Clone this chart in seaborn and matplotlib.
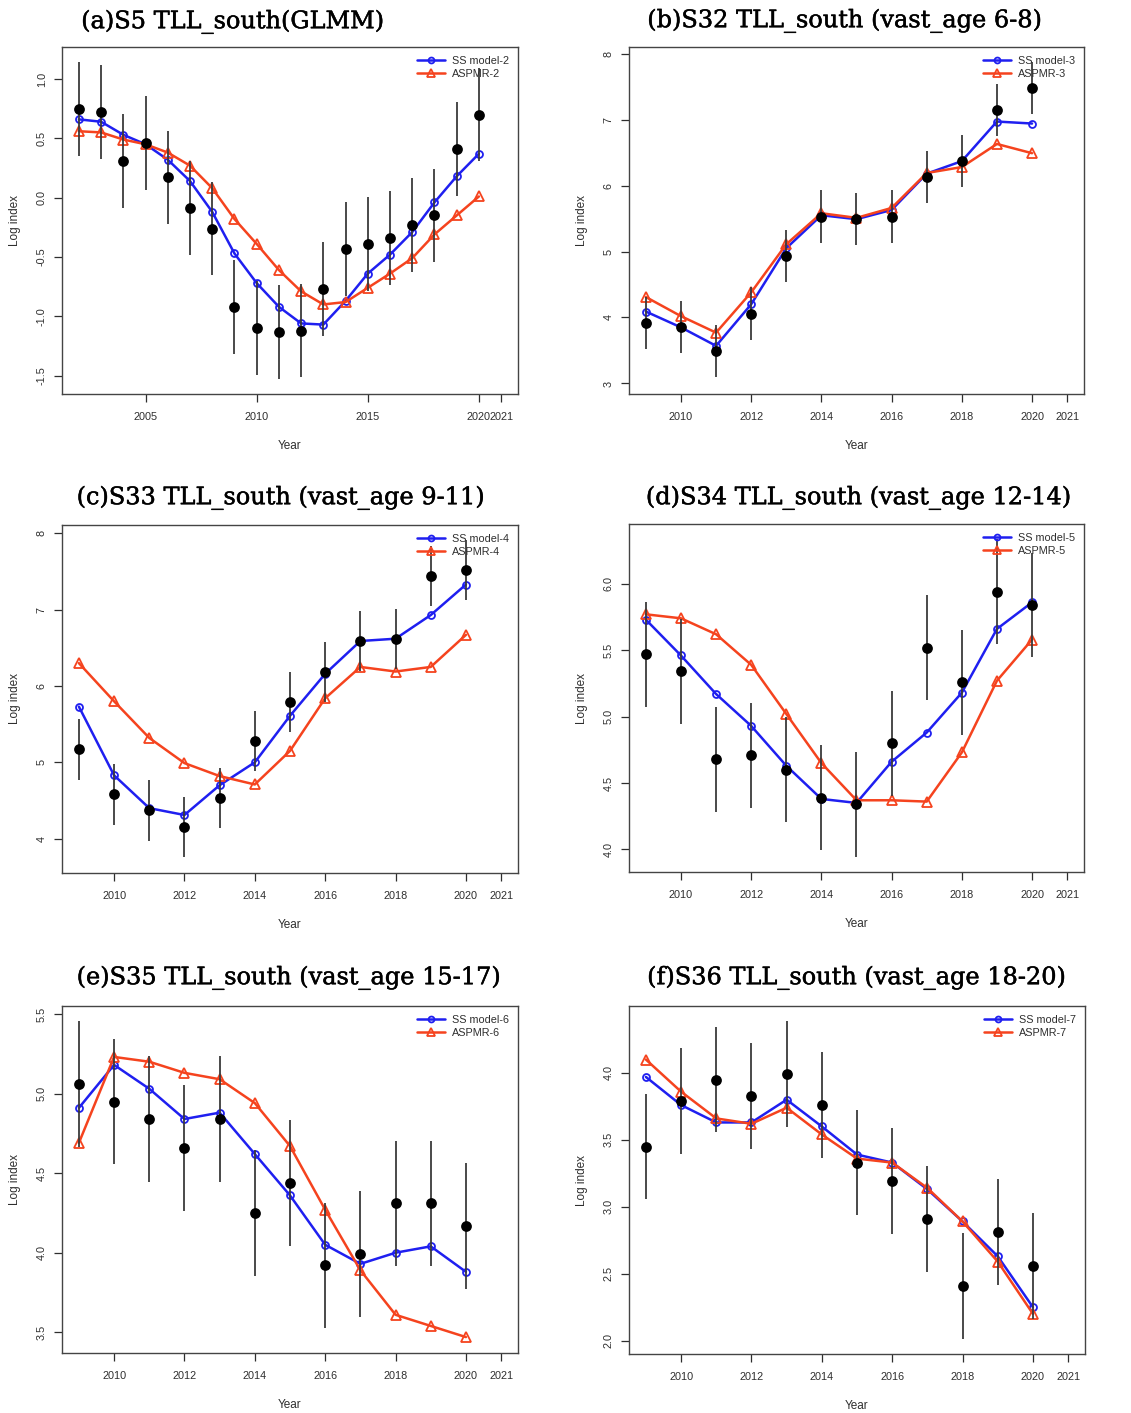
import matplotlib
matplotlib.use("Agg")
import matplotlib.pyplot as plt
import matplotlib.patheffects as pe
import seaborn as sns
import numpy as np
import pandas as pd

# ---- data ----
years_a = list(range(2002, 2021))
years = list(range(2009, 2021))

obs_a = [0.75, 0.72, 0.31, 0.46, 0.17, -0.09, -0.26, -0.92, -1.10, -1.13, -1.12,
         -0.77, -0.43, -0.39, -0.34, -0.23, -0.15, 0.41, 0.70]
ss_a = [0.66, 0.64, 0.53, 0.45, 0.32, 0.14, -0.12, -0.47, -0.72, -0.92, -1.06,
        -1.07, -0.87, -0.64, -0.48, -0.29, -0.04, 0.18, 0.37]
aspmr_a = [0.56, 0.55, 0.49, 0.45, 0.38, 0.27, 0.08, -0.18, -0.39, -0.61, -0.79,
           -0.90, -0.88, -0.76, -0.64, -0.51, -0.31, -0.15, 0.01]

obs_b = [3.92, 3.86, 3.49, 4.06, 4.93, 5.53, 5.49, 5.53, 6.13, 6.37, 7.14, 7.48]
ss_b = [4.09, 3.85, 3.57, 4.20, 5.05, 5.55, 5.49, 5.63, 6.18, 6.37, 6.97, 6.94]
aspmr_b = [4.31, 4.02, 3.77, 4.38, 5.11, 5.58, 5.51, 5.66, 6.19, 6.28, 6.63, 6.49]

obs_c = [5.17, 4.58, 4.37, 4.15, 4.53, 5.28, 5.79, 6.18, 6.59, 6.62, 7.44, 7.52]
ss_c = [5.73, 4.83, 4.40, 4.31, 4.70, 5.00, 5.61, 6.16, 6.59, 6.62, 6.93, 7.33]
aspmr_c = [6.30, 5.80, 5.32, 4.99, 4.82, 4.71, 5.15, 5.84, 6.25, 6.19, 6.25, 6.67]

obs_d = [5.47, 5.34, 4.68, 4.71, 4.60, 4.39, 4.34, 4.80, 5.52, 5.26, 5.94, 5.84]
ss_d = [5.73, 5.46, 5.17, 4.93, 4.63, 4.38, 4.35, 4.66, 4.88, 5.18, 5.66, 5.86]
aspmr_d = [5.77, 5.74, 5.62, 5.39, 5.02, 4.65, 4.37, 4.37, 4.36, 4.73, 5.27, 5.58]

obs_e = [5.06, 4.95, 4.84, 4.66, 4.84, 4.25, 4.44, 3.92, 3.99, 4.31, 4.31, 4.17]
ss_e = [4.91, 5.18, 5.03, 4.84, 4.88, 4.62, 4.36, 4.05, 3.93, 4.00, 4.04, 3.88]
aspmr_e = [4.69, 5.23, 5.20, 5.13, 5.09, 4.94, 4.67, 4.27, 3.89, 3.61, 3.54, 3.47]

obs_f = [3.45, 3.79, 3.95, 3.83, 3.99, 3.76, 3.33, 3.19, 2.91, 2.41, 2.81, 2.56]
ss_f = [3.97, 3.76, 3.63, 3.63, 3.80, 3.60, 3.39, 3.33, 3.13, 2.89, 2.63, 2.25]
aspmr_f = [4.10, 3.86, 3.66, 3.62, 3.74, 3.54, 3.36, 3.33, 3.14, 2.89, 2.59, 2.20]

ci_half = 0.395  # half-width of the observed index error bars

titles = ["(a)S5 TLL_south(GLMM)",
          "(b)S32 TLL_south (vast_age 6-8)",
          "(c)S33 TLL_south (vast_age 9-11)",
          "(d)S34 TLL_south (vast_age 12-14)",
          "(e)S35 TLL_south (vast_age 15-17)",
          "(f)S36 TLL_south (vast_age 18-20)"]
model_ids = [2, 3, 4, 5, 6, 7]

panels = [
    (years_a, obs_a, ss_a, aspmr_a),
    (years, obs_b, ss_b, aspmr_b),
    (years, obs_c, ss_c, aspmr_c),
    (years, obs_d, ss_d, aspmr_d),
    (years, obs_e, ss_e, aspmr_e),
    (years, obs_f, ss_f, aspmr_f),
]

# ---- layout (pixels) ----
W, H = 1131, 1413
boxes = [(62, 47, 518, 394), (629, 47, 1084, 394),
         (62, 525, 518, 873), (629, 524, 1084, 872),
         (62, 1006, 518, 1353), (629, 1006, 1085, 1354)]
title_pos = [(233, 22), (845, 21), (281, 498), (859, 498), (289, 978), (857, 978)]
ylims = [(-1.655, 1.27), (2.84, 8.10), (3.55, 8.11), (3.83, 6.45), (3.37, 5.55), (1.90, 4.50)]
yticks = [np.arange(-1.5, 1.01, 0.5), np.arange(3, 9, 1), np.arange(4, 9, 1),
          np.arange(4.0, 6.01, 0.5), np.arange(3.5, 5.51, 0.5), np.arange(2.0, 4.01, 0.5)]
yfmt = ["%.1f", "%d", "%d", "%.1f", "%.1f", "%.1f"]

sns.set_style("white")
plt.rcParams["font.family"] = ["Liberation Sans", "DejaVu Sans"]

blue = "#1f1ff0"
red = "#f5431e"
grey = "#2e2e2e"

fig = plt.figure(figsize=(W / 100, H / 100), dpi=100)

for i, (yrs, obs, ss, asp) in enumerate(panels):
    l, t, r, b = boxes[i]
    ax = fig.add_axes([l / W, 1 - b / H, (r - l) / W, (b - t) / H])

    df = pd.DataFrame({"Year": yrs, "ss": ss, "asp": asp, "obs": obs})
    sns.lineplot(data=df, x="Year", y="ss", ax=ax, color=blue, lw=1.8,
                 marker="o", markersize=5, markerfacecolor="none",
                 markeredgecolor=blue, markeredgewidth=1.3,
                 label=f"SS model-{model_ids[i]}", zorder=3)
    sns.lineplot(data=df, x="Year", y="asp", ax=ax, color=red, lw=1.8,
                 marker="^", markersize=7, markerfacecolor="none",
                 markeredgecolor=red, markeredgewidth=1.3,
                 label=f"ASPMR-{model_ids[i]}", zorder=3)
    ax.errorbar(df["Year"], df["obs"], yerr=ci_half, fmt="none",
                ecolor="#3a3a3a", elinewidth=1.3, capsize=0, zorder=4)
    sns.scatterplot(data=df, x="Year", y="obs", ax=ax, color="black", s=60,
                    edgecolor="black", linewidth=0, zorder=5, legend=False)

    if i == 0:
        ax.set_xlim(2001.24, 2021.76)
        ax.set_xticks([2005, 2010, 2015, 2020, 2021])
    else:
        ax.set_xlim(2008.52, 2021.48)
        ax.set_xticks([2010, 2012, 2014, 2016, 2018, 2020, 2021])
    ax.set_ylim(*ylims[i])
    ax.set_yticks(yticks[i])
    ax.set_yticklabels([yfmt[i] % v for v in yticks[i]], rotation=90, va="center")

    ax.tick_params(axis="both", direction="out", length=6, width=0.9,
                   color=grey, labelsize=7.8, labelcolor=grey, pad=5,
                   bottom=True, left=True)
    ax.tick_params(axis="x", pad=7)
    for s in ax.spines.values():
        s.set_color("#444444")
        s.set_linewidth(1.0)

    ax.set_xlabel("Year", fontsize=8.5, color=grey, labelpad=13)
    ax.set_ylabel("Log index", fontsize=8.5, color=grey, labelpad=11)

    leg = ax.legend(loc="upper right", frameon=False, fontsize=7.8,
                    handlelength=2.6, handletextpad=0.6, labelspacing=0.25,
                    borderaxespad=0.45, markerscale=0.85)
    for txt in leg.get_texts():
        txt.set_color(grey)

    tx, ty = title_pos[i]
    fig.text(tx / W, 1 - ty / H, titles[i], ha="center", va="center",
             fontsize=17.3, family=["DejaVu Serif"], color="black",
             path_effects=[pe.withStroke(linewidth=0.35, foreground="black")])

fig.savefig("out.png", dpi=100)
